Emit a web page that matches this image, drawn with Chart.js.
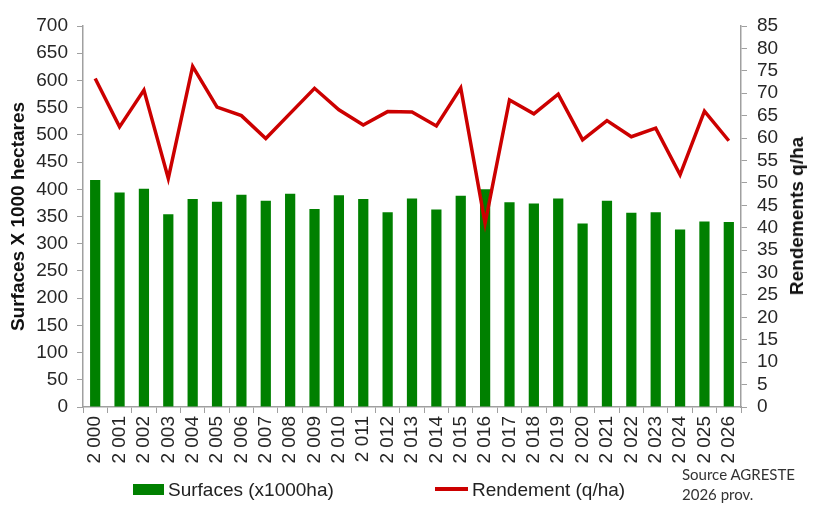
<!DOCTYPE html>
<html>
<head>
<meta charset="utf-8">
<script src="https://cdn.jsdelivr.net/npm/chart.js@4.4.1/dist/chart.umd.min.js"></script>
<style>
  body { margin: 0; background: #fff; }
  #wrap { position: relative; width: 820px; height: 512px; font-family: 'Liberation Sans', Arial, sans-serif; }
  .abs { position: absolute; white-space: nowrap; }
  .leg { font-size: 19px; line-height: 22px; color: #222; }
  #src { font-family: Lato, 'Open Sans', sans-serif; font-size: 15px; line-height: 20px; color: #333; }
</style>
</head>
<body>
<div id="wrap">
  <canvas id="chart" width="820" height="512"></canvas>
  <div class="abs" id="rtitle" style="left:797px;top:216px;transform:translate(-50%,-50%) rotate(-90deg);font-weight:bold;font-size:19px;color:#111;">Rendements q/ha</div>
  <div class="abs" style="left:133px;top:484px;width:31px;height:11px;background:#008000;"></div>
  <div class="abs leg" style="left:168px;top:479px;">Surfaces (x1000ha)</div>
  <div class="abs" style="left:435px;top:487px;width:33px;height:4px;background:#cc0000;"></div>
  <div class="abs leg" style="left:472px;top:479px;">Rendement (q/ha)</div>
  <div class="abs" id="src" style="left:682px;top:464px;">Source AGRESTE<br>2026 prov.</div>
</div>
<script>
var years = ['2 000','2 001','2 002','2 003','2 004','2 005','2 006','2 007','2 008','2 009',
             '2 010','2 011','2 012','2 013','2 014','2 015','2 016','2 017','2 018','2 019',
             '2 020','2 021','2 022','2 023','2 024','2 025','2 026'];

// surfaces en milliers d'hectares (axe gauche)
var surfaces = [417, 394, 401, 354, 382, 377, 390, 379, 392, 364,
                389, 382, 358, 383, 363, 388, 400, 376, 374, 383,
                337, 379, 357, 358, 326, 341, 340];

// rendements q/ha (axe droit)
var rendements = [73.3, 62.5, 70.7, 51.0, 76.0, 66.9, 65.0, 59.9, 65.5, 71.1,
                  66.3, 62.9, 65.9, 65.8, 62.7, 71.2, 41.0, 68.5, 65.4, 69.8,
                  59.6, 63.9, 60.3, 62.2, 51.8, 66.0, 59.4];

var leftMax = 700, leftStep = 50;
var rightMax = 85, rightStep = 5;

var tickFont = { family: "'Liberation Sans', Arial, sans-serif", size: 19 };
var axisColor = '#a0a0a0';
var textColor = '#262626';

var ctx = document.getElementById('chart').getContext('2d');

var myChart = new Chart(ctx, {
    data: {
        labels: years,
        datasets: [{
            type: 'line',
            label: 'Rendement (q/ha)',
            data: rendements,
            yAxisID: 'y1',
            borderColor: '#cc0000',
            borderWidth: 3.5,
            pointRadius: 0,
            tension: 0,
            order: 0
        }, {
            type: 'bar',
            label: 'Surfaces (x1000ha)',
            data: surfaces,
            yAxisID: 'y',
            backgroundColor: '#008000',
            barPercentage: 0.42,
            categoryPercentage: 1,
            order: 1
        }]
    },
    options: {
        responsive: false,
        animation: false,
        layout: { padding: { top: 26, left: 0, right: 0, bottom: 0 } },
        plugins: {
            legend: { display: false },
            tooltip: { enabled: false }
        },
        scales: {
            x: {
                offset: true,
                grid: { display: true, drawOnChartArea: false, offset: true, tickLength: 6, color: axisColor },
                border: { color: axisColor, width: 1.5 },
                ticks: { minRotation: 90, maxRotation: 90, autoSkip: false, font: tickFont, color: textColor, padding: 3 },
                afterFit: function(scale) { scale.height = 105; }
            },
            y: {
                position: 'left',
                min: 0,
                max: leftMax,
                grid: { display: true, drawOnChartArea: false, tickLength: 6, color: axisColor },
                border: { color: axisColor, width: 1.5 },
                ticks: { stepSize: leftStep, autoSkip: false, font: tickFont, color: textColor, padding: 9 },
                title: {
                    display: true,
                    text: 'Surfaces X 1000 hectares',
                    font: { family: "'Liberation Sans', Arial, sans-serif", size: 19, weight: 'bold' },
                    color: '#111',
                    padding: { top: 7, bottom: 0 }
                },
                afterFit: function(scale) { scale.width = 83; }
            },
            y1: {
                position: 'right',
                min: 0,
                max: rightMax,
                grid: { display: true, drawOnChartArea: false, tickLength: 6, color: axisColor },
                border: { color: axisColor, width: 1.5 },
                ticks: { stepSize: rightStep, autoSkip: false, font: tickFont, color: textColor, padding: 10 },
                afterFit: function(scale) { scale.width = 79; }
            }
        }
    }
});
</script>
</body>
</html>
